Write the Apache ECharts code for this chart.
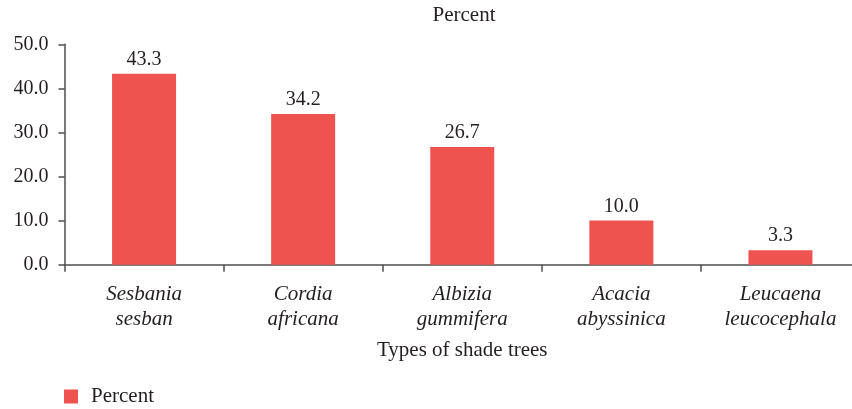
<!DOCTYPE html>
<html><head><meta charset="utf-8">
<script src="https://cdn.jsdelivr.net/npm/echarts@6/dist/echarts.min.js"></script>
<style>html,body{margin:0;padding:0;background:#fff}#c{width:852px;height:409px}</style>
</head><body><div id="c"></div>
<script>
const categories = ["Sesbania\nsesban", "Cordia\nafricana", "Albizia\ngummifera", "Acacia\nabyssinica", "Leucaena\nleucocephala"];
const percentValues = [43.3, 34.2, 26.7, 10.0, 3.3];
const seriesName = "Percent";
const yMin = 0, yMax = 50, yInterval = 10;

const FONT = "Liberation Serif";
const chart = echarts.init(document.getElementById('c'), null, {renderer: 'canvas'});
chart.setOption({
  animation: false,
  title: {text: "Percent", left: 459, top: 0, textAlign: 'center',
    textStyle: {fontFamily: FONT, fontSize: 21, fontWeight: 'normal', color: '#231f20'}},
  legend: {left: 59, top: 381, itemWidth: 14, itemHeight: 14, itemGap: 13,
    icon: 'rect', data: [seriesName],
    textStyle: {fontFamily: FONT, fontSize: 21, color: '#231f20', padding: [0, 0, 0, 8]}},
  grid: {left: 64.5, width: 795.5, top: 44.3, height: 220.4, containLabel: false, outerBoundsMode: 'none'},
  xAxis: {type: 'category', data: categories,
    name: "Types of shade trees", nameLocation: 'middle', nameGap: 75,
    nameTextStyle: {fontFamily: FONT, fontSize: 21, color: '#231f20'},
    axisLine: {lineStyle: {color: '#4d4d4f', width: 1.5}},
    axisTick: {show: true, length: 7, lineStyle: {color: '#4d4d4f', width: 1.5}},
    axisLabel: {fontFamily: FONT, fontSize: 21, fontStyle: 'italic', color: '#231f20', lineHeight: 25, margin: 17, hideOverlap: false}},
  yAxis: {type: 'value', min: yMin, max: yMax, interval: yInterval,
    axisLine: {show: true, lineStyle: {color: '#4d4d4f', width: 1.5}},
    axisTick: {show: true, length: 6, lineStyle: {color: '#4d4d4f', width: 1.5}},
    splitLine: {show: false},
    axisLabel: {fontFamily: FONT, fontSize: 20, color: '#231f20', margin: 16,
      formatter: v => v.toFixed(1)}},
  series: [{name: seriesName, type: 'bar', data: percentValues, barWidth: 64,
    itemStyle: {color: '#ef5350'},
    label: {show: true, position: 'top', distance: 4, fontFamily: FONT, fontSize: 20, color: '#231f20',
      formatter: p => p.value.toFixed(1)}}]
});
</script></body></html>
